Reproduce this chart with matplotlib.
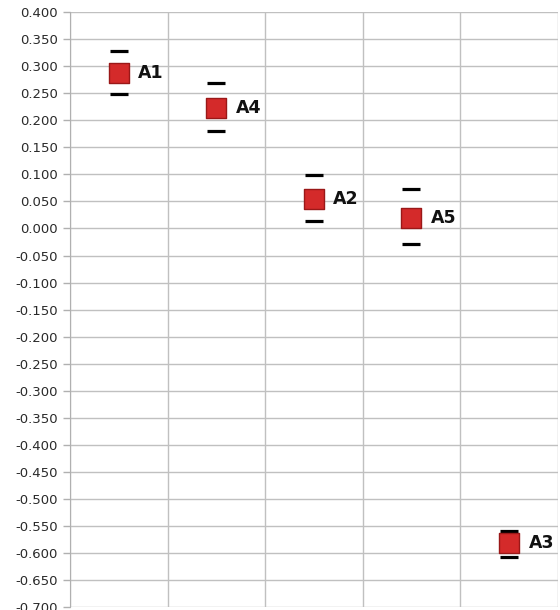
import matplotlib
matplotlib.use("Agg")
import matplotlib.pyplot as plt
import numpy as np

labels = ["A1", "A4", "A2", "A5", "A3"]
centers = [0.287, 0.222, 0.054, 0.019, -0.582]
uppers = [0.329, 0.269, 0.099, 0.073, -0.560]
lowers = [0.248, 0.181, 0.013, -0.029, -0.607]
yticks = np.round(np.arange(-0.70, 0.4001, 0.05), 3)

fig = plt.figure(figsize=(5.6, 6.1), dpi=100)
ax = fig.add_axes([0.125, 0.005, 0.871, 0.975])

x = np.arange(len(labels)) + 0.5
ax.set_xlim(0, 5)
ax.set_ylim(-0.70, 0.40)
ax.set_xticks(np.arange(0, 6))
ax.set_xticklabels([])
ax.set_yticks(yticks)
ax.set_yticklabels([f"{v:.3f}" for v in yticks], fontsize=9.5, color="#2a2a2a")
ax.tick_params(axis="x", length=0)
ax.tick_params(axis="y", length=5, color="#b0b0b0", width=1)
ax.grid(True, color="#c0c0c0", linewidth=1)
ax.set_axisbelow(True)
for s in ["top", "right", "bottom"]:
    ax.spines[s].set_visible(False)
ax.spines["left"].set_color("#b0b0b0")

ax.scatter(x, uppers, marker="_", s=175, color="black", linewidths=2.3, zorder=3)
ax.scatter(x, lowers, marker="_", s=175, color="black", linewidths=2.3, zorder=3)
ax.scatter(x, centers, marker="s", s=190, facecolor="#d42a2a",
           edgecolor="#9a1818", linewidths=1, zorder=4)
for xi, c, lab in zip(x, centers, labels):
    ax.annotate(lab, (xi, c), xytext=(14, 0), textcoords="offset points",
                va="center", ha="left", fontsize=12.5, fontweight="bold", color="#111111")

fig.savefig("out.png", dpi=100)
